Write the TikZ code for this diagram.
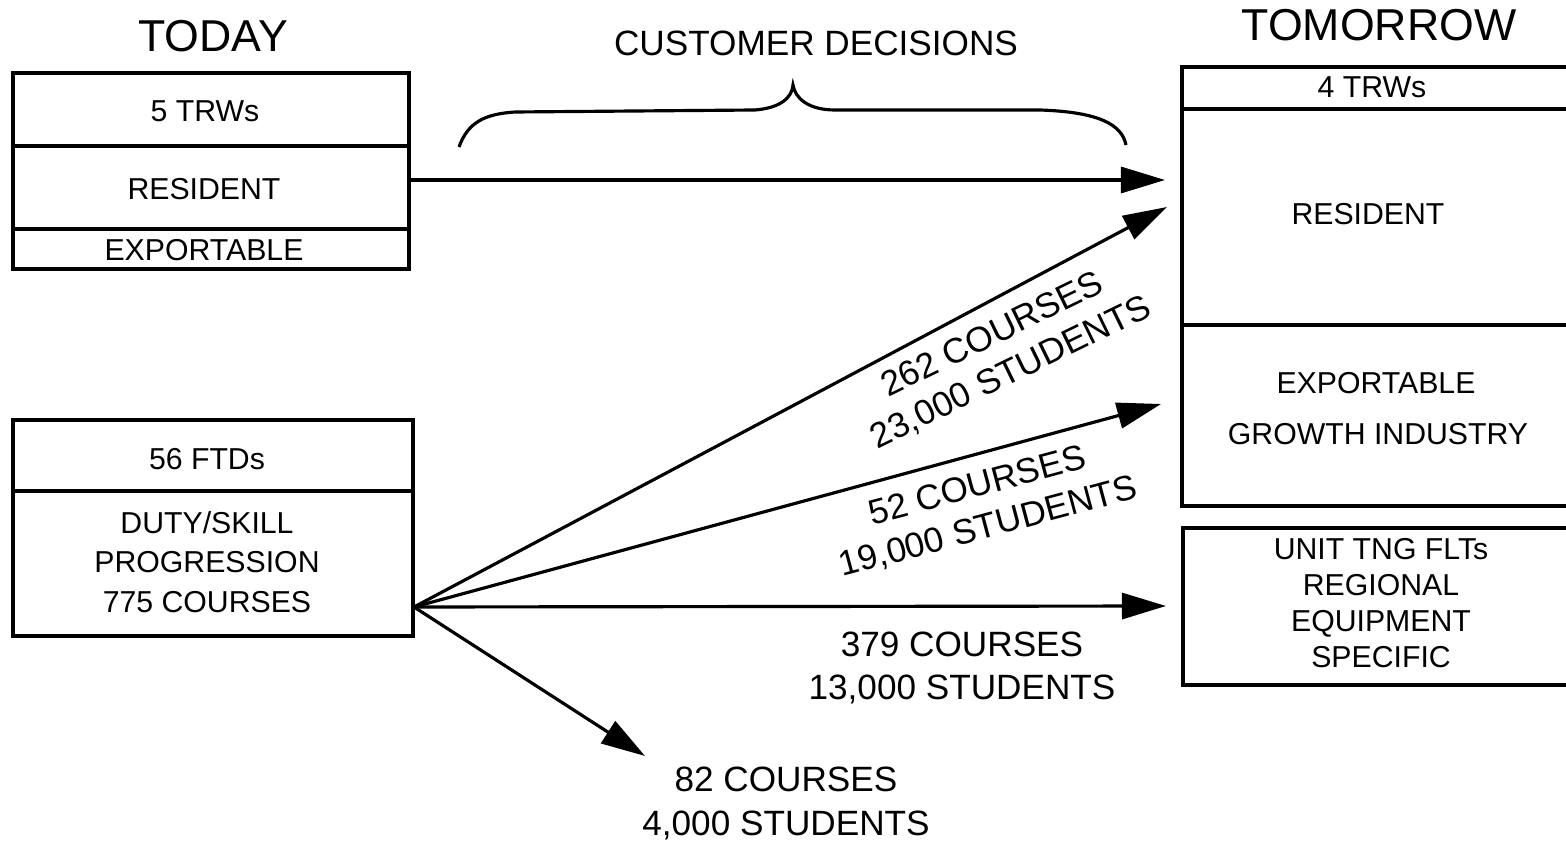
\documentclass[tikz,border=0pt]{standalone}
\usepackage{fontspec}
\setmainfont{Liberation Sans}
\usetikzlibrary{arrows.meta}
\tikzset{
  head/.style={font=\fontsize{12.7}{15}\selectfont},
  boxtext/.style={font=\fontsize{8.6}{11.3}\selectfont,align=center,inner sep=0pt},
  count/.style={font=\fontsize{10}{12}\selectfont,align=center,inner sep=0pt},
  flow/.style={-{Triangle[length=0.44cm,width=0.26cm]}},
}
\begin{document}
\begin{tikzpicture}[x=.01cm,y=-.01cm,line width=0.9pt]
\useasboundingbox (0,0) rectangle (1566,843);
% headings
\node[head] (today) at (213,36) {TODAY};
\node[head] (tomorrow) at (1379,25) {TOMORROW};
\node[count] (decide) at (816,43) {CUSTOMER DECISIONS};
% brace under customer decisions
\draw (459,147) .. controls (468,122) and (485,114) .. (515,112) -- (755,110)
  .. controls (780,108) and (792,98) .. (793,85)
  .. controls (795,98) and (808,110) .. (835,110) -- (1040,110)
  .. controls (1100,112) and (1122,125) .. (1126,145);
% today boxes
\draw (13,73) rectangle (409,269);
\draw (13,146) -- (409,146);
\draw (13,229) -- (409,229);
\draw (13,420) rectangle (413,636);
\draw (13,491) -- (413,491);
\node[boxtext] (trw5) at (205,111) {5 TRWs};
\node[boxtext] (res1) at (204,189) {RESIDENT};
\node[boxtext] (exp1) at (204,250) {EXPORTABLE};
\node[boxtext] (ftd) at (207,459) {56 FTDs};
\node[boxtext] (duty) at (207,562) {DUTY/SKILL\\PROGRESSION\\775 COURSES};
% tomorrow boxes, open to the right
\draw (1570,67) -- (1182,67) -- (1182,506) -- (1570,506);
\draw (1182,109) -- (1570,109);
\draw (1182,325) -- (1570,325);
\draw (1570,528) -- (1183,528) -- (1183,685) -- (1570,685);
\node[boxtext] (trw4) at (1372,87) {4 TRWs};
\node[boxtext] (res2) at (1368,214) {RESIDENT};
\node[boxtext] (exp2) at (1376,383) {EXPORTABLE};
\node[boxtext] (grow) at (1378,434) {GROWTH INDUSTRY};
\node[boxtext,font=\fontsize{8.6}{10.3}\selectfont] (unit) at (1381,603) {UNIT TNG FLTs\\REGIONAL\\EQUIPMENT\\SPECIFIC};
% arrows
\coordinate (resout) at (409,180);
\coordinate (ftdout) at (414,607);
\coordinate (resin) at (1165,180);
\coordinate (in1) at (1167,207);
\coordinate (in2) at (1161,404);
\coordinate (in3) at (1166,606);
\coordinate (in4) at (645,756);
\draw[flow] (resout) -- (resin);
\draw[flow] (ftdout) -- (in1);
\draw[flow] (ftdout) -- (in2);
\draw[flow] (ftdout) -- (in3);
\draw[flow] (ftdout) -- (in4);
% course counts
\node[count,rotate=26] (c262) at (1002,354) {262 COURSES\\23,000 STUDENTS};
\node[count,rotate=15] (c52) at (983,507) {52 COURSES\\19,000 STUDENTS};
\node[count] (c379) at (962,668) {379 COURSES\\13,000 STUDENTS};
\node[count,font=\fontsize{10}{12.5}\selectfont] (c82) at (786,803) {82 COURSES\\4,000 STUDENTS};
\end{tikzpicture}
\end{document}
